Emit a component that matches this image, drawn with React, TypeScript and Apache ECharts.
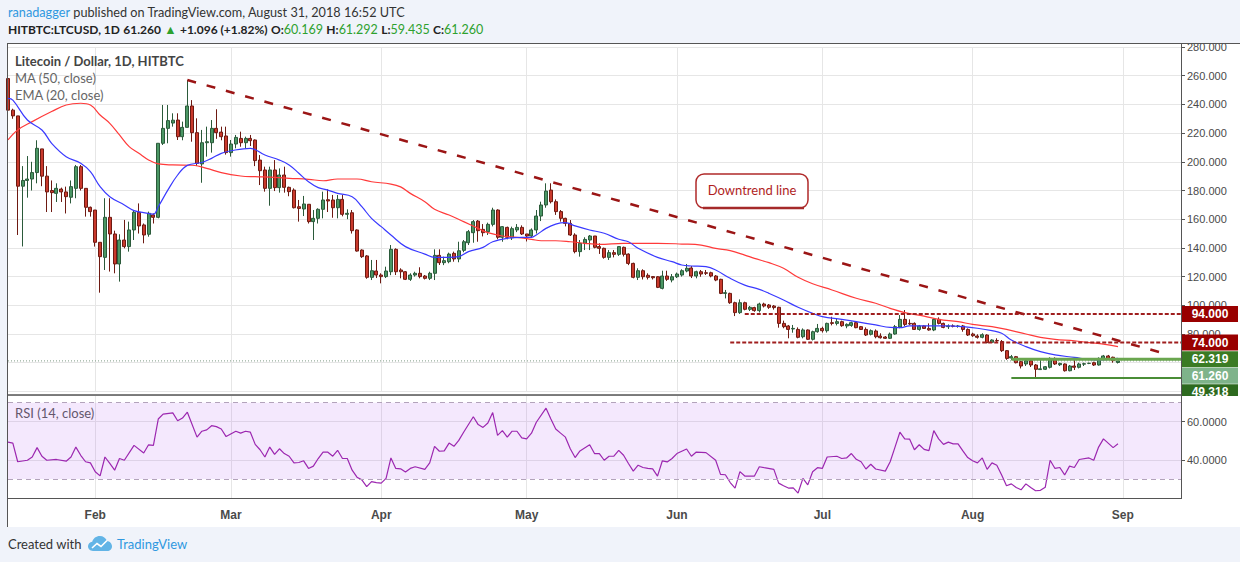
import { useEffect, useRef } from "react";
import * as echarts from "echarts";

// daily candles from 2018-01-14, [open, high, low, close]
const ohlc = [
  [258, 266, 229, 236], [236, 237, 230, 232], [232, 232, 149, 183], [183, 197, 141, 187], [187, 204, 175, 188],
  [188, 200, 180, 192.5], [192.5, 215, 185, 209.4], [209, 209, 183, 190], [190, 197, 165, 179], [180, 187, 165, 178.5],
  [178, 185, 172, 181.5], [181, 182, 172, 179], [179, 182.7, 164, 175.7], [175.3, 187, 171, 182.7], [181.5, 197.8, 174.6, 196.6],
  [196.6, 197.8, 180, 181.5], [181.5, 181.5, 161.8, 168.3], [168.3, 168.8, 161.8, 165.3], [166.4, 166.4, 140.9, 143.9], [143.9, 143.9, 108.8, 133.9],
  [133.4, 174.6, 124.6, 161.3], [161.3, 174.6, 123.5, 149.7], [149.7, 152, 122.3, 128.8], [128.8, 149.5, 116.5, 145.5], [145.5, 159.5, 139.7, 140.9],
  [140.9, 158.3, 137.4, 152.5], [152.5, 166.4, 145.5, 164.8], [164.8, 171, 150, 155.3], [156, 157, 143.2, 149], [149.5, 165.3, 147.8, 164.1],
  [163, 164, 157, 161.3], [161.3, 212.9, 160.6, 212.9], [212.9, 239.6, 211.7, 223.3], [223.3, 239.6, 212.9, 228.7], [227, 233.8, 224.5, 229],
  [229.1, 233.8, 215.2, 217.5], [217.5, 228, 215, 224], [224, 257, 224, 238.9], [238.9, 243, 214, 220.3], [220.3, 230.3, 197, 198.9],
  [198.5, 222.2, 185.4, 213.3], [213.3, 224.5, 203.6, 214], [213.3, 229.1, 206.4, 223.3], [223.3, 236.6, 216, 220.3], [220.7, 224.5, 215, 217.5],
  [218, 224.5, 205, 206.4], [206.4, 215.2, 203.6, 212.4], [212.4, 218.7, 209.4, 217], [216.3, 221, 210.5, 213.3], [213.3, 217.5, 209.4, 216.3],
  [216.3, 218.7, 211, 214.7], [215.2, 215.6, 197, 200.8], [201.2, 204.7, 183.8, 193.8], [194.3, 196.6, 179.2, 181.5], [181.5, 196.6, 169.4, 194.3],
  [194.3, 201.2, 179.6, 182], [182, 195.4, 178.5, 190.8], [190.8, 196.6, 178.5, 182.2], [182.2, 182.7, 176, 179.2], [180.3, 181.5, 167.5, 168],
  [168.7, 173.4, 158.3, 167.5], [167.1, 176.2, 162.2, 170.6], [170.4, 170.4, 157, 158.3], [158.3, 166.4, 145.5, 160.6], [160.6, 167.6, 157, 166.9],
  [166.9, 179.2, 160.6, 173.4], [173.6, 180.8, 165, 172.7], [173.4, 176.9, 161, 168], [168, 176.9, 160.6, 173.8], [173.8, 176.9, 162, 163.4],
  [163.4, 166.9, 160, 164.1], [164.5, 166.4, 150, 152], [152.5, 152.9, 137.4, 137.8], [138.5, 139, 133, 133.9], [134.4, 135, 118.5, 119.5],
  [119.5, 131.6, 117.6, 124.1], [123.9, 131.6, 119, 121.1], [121.1, 122.3, 115.3, 120], [120, 126.9, 119, 123.9], [123.4, 142, 121, 139],
  [139, 139.7, 121.1, 123.4], [124.6, 125.8, 118.8, 123.4], [123.4, 123.9, 117.6, 118.1], [118.1, 122.3, 117, 121.1], [121.1, 123.4, 120, 122.3],
  [122.3, 126.5, 118.8, 120], [120.4, 121.1, 118, 118.8], [118.8, 123.4, 117.6, 122.3], [122.3, 139, 117.6, 134.8], [134.8, 139, 128.1, 129.7],
  [129.7, 133.9, 128, 131.1], [130.4, 136.7, 129.3, 135.7], [136.2, 137.4, 130.4, 132.3], [132.3, 144.3, 130, 138], [138.3, 145.5, 137, 144.3],
  [143.6, 152.5, 142, 151.3], [150.6, 159.4, 143.6, 158.3], [158.7, 159.4, 144.3, 152], [152.9, 156.6, 148, 150.6], [151.3, 157.6, 149, 156.4],
  [156.4, 168, 155, 166.4], [166.4, 166.9, 146, 147.4], [147.4, 155.2, 144.3, 154.8], [154.3, 154.8, 146, 147.4], [147.1, 154.8, 145.5, 153.4],
  [152.5, 156.6, 151, 154.3], [154.3, 155.7, 149, 149.7], [149.7, 149.7, 144.5, 148.3], [148.3, 153.6, 147, 152.5], [152.5, 166.4, 150, 162.2],
  [162.2, 172.2, 158.7, 169.9], [169.9, 185, 168, 179.6], [180.3, 185, 171, 172.2], [172.2, 173.8, 163, 165.3], [165.3, 166.4, 158.3, 160.6],
  [160.6, 161, 155, 157.1], [157.1, 159.4, 148.3, 149], [149, 150.2, 136.2, 137.4], [137.4, 145.5, 133.9, 143.2], [143.2, 147.4, 138.5, 145.9],
  [145.5, 149, 138.5, 148.3], [148.3, 148.3, 139.7, 140.4], [140.9, 143.2, 135.8, 139.7], [139.7, 140.2, 132.5, 133.4], [133.4, 138.5, 131.6, 136.7],
  [136.7, 138.5, 133.4, 135.5], [135.5, 140.9, 134.4, 140.9], [140.4, 140.9, 134, 135.5], [135.7, 136.2, 128, 129.2], [129.2, 129.7, 118.8, 119.5],
  [119.5, 125.8, 117.6, 124.1], [124.1, 125.1, 118, 119.9], [120.9, 122.3, 118, 119.5], [120, 120.4, 118, 119.2], [119.9, 120.4, 112, 112.5],
  [111.8, 124.1, 111.1, 120.4], [120.4, 124.1, 117, 118.1], [117.6, 121.8, 116, 119.9], [119.9, 122.8, 119, 121.8], [121.1, 125.1, 120, 124.1],
  [123.9, 128.8, 123, 125.8], [126, 127.4, 119, 120.4], [120.4, 124.1, 118.8, 123.4], [123.4, 124.6, 119.9, 121.8], [122.7, 124.6, 121.1, 122.3],
  [122.7, 123.4, 119.5, 120.4], [120.4, 121.1, 116.8, 117.6], [118.1, 118.5, 107.8, 108.3], [108.3, 110.7, 104.8, 108.8], [108.3, 108.8, 101, 101.8],
  [101.8, 102.5, 92.5, 94.9], [94.9, 104.1, 94, 101.8], [101.8, 102.5, 96.5, 97.2], [97.2, 99.5, 96, 98.6], [98.4, 99, 95.5, 96.3],
  [96.3, 101.8, 95, 100.9], [100.9, 101.8, 98.5, 99.5], [100.2, 100.9, 97.5, 98.6], [99.5, 100.2, 97, 98.4], [98.6, 99, 84.4, 87.4],
  [87.4, 89.3, 84, 85.1], [85.6, 86.3, 77, 83.2], [83.5, 86.3, 80.9, 83.9], [83.2, 84.6, 77, 77.7], [78.1, 83.9, 77, 82.8],
  [82.8, 83.2, 75.8, 76.3], [76.3, 82.3, 75.5, 81.6], [81.6, 87, 80.9, 83.9], [83.9, 85.1, 81, 82.3], [82.3, 87.9, 81, 87.4],
  [87.9, 92, 86, 87.4], [87.4, 90.9, 86, 88.6], [88.6, 89.3, 85, 85.8], [85.6, 87.4, 84, 86.7], [86, 88.6, 85, 87.9],
  [87.9, 88.6, 84, 84.4], [85.1, 85.6, 82.8, 83.2], [83.2, 84.6, 78.6, 79.3], [79.8, 83.2, 79, 82.3], [82.1, 83.2, 77, 78.1],
  [78.6, 80.5, 76.8, 77.4], [77.9, 78.6, 76.5, 77], [77, 81, 76.5, 80], [80, 86.3, 79.5, 85.1], [84.9, 93.2, 84, 90.2],
  [90.2, 96.7, 85.5, 86.7], [87.4, 90.2, 86.3, 87], [87.4, 88.1, 82.8, 83.2], [83.2, 86.3, 82.3, 85.6], [85.6, 86, 83.5, 83.9],
  [83.9, 87.4, 82.3, 82.8], [82.8, 90.9, 82, 90.2], [90.2, 91.6, 86.7, 87.4], [87.4, 87.9, 84, 84.6], [85.1, 86.7, 83.5, 85.6],
  [85.6, 86.7, 84.6, 85.4], [85.4, 86.3, 84.4, 85.5], [85.6, 86.3, 81.6, 83.2], [83.2, 83.9, 78.6, 79.3], [80, 80.9, 78, 78.8],
  [78.6, 79.8, 76.8, 77.7], [77.7, 80.5, 77, 79.5], [79.3, 79.8, 73.5, 74], [74.2, 76.3, 73.8, 75.8], [75.5, 77, 74, 75.3],
  [74.7, 75.8, 67.5, 68.4], [68.4, 68.8, 62, 63], [63.3, 65.4, 61.9, 64.2], [64.2, 64.7, 59.5, 60], [60.7, 61.4, 56, 57.7],
  [59.1, 62.3, 57.7, 61.4], [61.4, 61.9, 57, 58.4], [58.4, 59.1, 49.318, 55.4], [55.2, 63, 55, 55.7], [55.4, 57.7, 54.9, 57.2],
  [56.8, 63.7, 56, 63], [63, 63.7, 58.4, 59.1], [58.6, 60, 57.7, 59.5], [59.1, 59.5, 53.8, 54.4], [54.4, 58.4, 54, 57.7],
  [57.7, 61.9, 54.9, 56.8], [56.8, 60, 56, 59.1], [59, 60, 57.7, 59.3], [59.5, 60, 59, 59.6], [60, 60.7, 57.7, 58.4],
  [58.4, 63.7, 58, 63], [62.8, 65.4, 62.3, 64.7], [64.7, 65.4, 62.5, 63], [63.8, 64.2, 60, 61.4], [60.169, 61.292, 59.435, 61.26],
];

// [day index, value]
const ma50 = [
  [0, 215.2], [2, 222.2], [5, 228], [9, 235], [12, 239.6], [15, 240.8], [17, 239.6], [19, 232.6], [21, 226.8], [23, 218.7],
  [25, 210.6], [27, 205.9], [29, 201.3], [31, 198.5], [34, 197.8], [38, 197.6], [41, 195.4], [44, 192.4], [48, 190.1], [51, 189.6],
  [55, 189.2], [58, 188.5], [62, 187.8], [65, 186.8], [68, 188], [72, 188], [75, 186.1], [79, 184.5], [81, 182.5], [83, 178],
  [86, 172.2], [88, 166.9], [91, 162.9], [94, 158.3], [97, 153.6], [99, 150.6], [102, 148.3], [105, 147.4], [108, 146], [110, 145],
  [113, 145], [116, 144.3], [119, 143.2], [122, 142.5], [127, 143.2], [134, 143.2], [139, 142.7], [143, 142], [146, 139.7], [149, 138.1],
  [152, 135], [154, 132.7], [157, 129.7], [160, 125.8], [163, 119.5], [166, 115], [170, 110.7], [175, 104.9], [179, 101.4], [182, 97.9],
  [185, 94.9], [189, 92.5], [192, 90.2], [196, 88.6], [199, 86.7], [203, 85.1], [206, 83.2], [210, 80], [213, 77.7], [216, 76.3],
  [220, 75.3], [223, 74], [226, 73], [229, 71.2],
];
const ema20 = [
  [0, 244.2], [1, 243], [4, 229.1], [7, 222.2], [9, 212.9], [12, 203.6], [15, 199], [17, 193.1], [19, 182.7], [21, 175.7],
  [24, 169.9], [26, 166], [28, 164.6], [30, 163.6], [31, 168.7], [33, 180.4], [35, 190.8], [37, 197.5], [40, 199.5], [42, 202.4],
  [44, 205.9], [46, 207.7], [50, 209.4], [53, 204.7], [56, 201.2], [58, 197.8], [60, 192], [62, 186.1], [64, 182], [66, 180.3],
  [68, 178], [71, 175.7], [73, 168.7], [75, 160.6], [77, 154.8], [79, 149], [82, 140.9], [86, 135.7], [88, 133.4], [91, 133.4],
  [93, 133.9], [95, 137.4], [98, 140.4], [100, 144.3], [103, 146.7], [106, 147.4], [108, 147.4], [109, 149], [111, 153.6], [113, 156.6],
  [115, 157.6], [117, 155.3], [120, 152.5], [123, 150.2], [126, 146], [128, 144.3], [130, 139.7], [134, 133.4], [137, 130.4], [139, 128.1],
  [141, 127.4], [144, 126.9], [146, 124.6], [149, 118.8], [152, 114.1], [155, 111.1], [157, 108.3], [160, 103.7], [163, 98.6], [166, 94.4],
  [168, 92.1], [172, 90.2], [175, 88.6], [179, 86.3], [182, 84.6], [184, 84.4], [186, 85.6], [189, 85.6], [192, 85.6], [194, 85.6],
  [197, 85.1], [200, 84], [203, 82.3], [205, 80.5], [207, 75.8], [210, 71.2], [213, 67.7], [216, 65.4], [220, 63.7], [223, 62.3],
  [225, 61.9], [227, 62.3], [229, 63],
];
const rsi14 = [
  [0, 49.3], [1, 48.8], [2, 39], [4, 39.8], [5, 41.5], [6, 46.4], [7, 41.9], [8, 39.8], [10, 40.2], [12, 39.3],
  [13, 41.5], [14, 46.7], [15, 42.4], [16, 39], [17, 38.4], [18, 33.8], [19, 31.6], [20, 41.5], [21, 38.1], [22, 34.6],
  [23, 40.7], [24, 39.8], [26, 47.6], [28, 43.6], [29, 47.9], [30, 47.6], [31, 61.4], [32, 64], [34, 64.6], [35, 60.5],
  [36, 61.9], [37, 65], [39, 51.9], [40, 55], [41, 55.7], [42, 57.9], [43, 57.4], [44, 56.2], [45, 52.2], [47, 55],
  [48, 54], [49, 55], [50, 54.5], [51, 48.1], [52, 45.3], [53, 41.5], [54, 46.7], [55, 42.9], [56, 45.8], [57, 43.3],
  [58, 41.9], [59, 38.4], [60, 38.6], [61, 39.5], [62, 35.5], [63, 36.7], [64, 40.7], [65, 44.1], [66, 44], [67, 41.9],
  [68, 45], [69, 40.7], [70, 40.7], [71, 34.6], [72, 30.9], [73, 29.5], [74, 26], [75, 28.6], [76, 28.1], [77, 27.8],
  [78, 30.3], [79, 41], [80, 35.5], [81, 35.3], [82, 33.6], [83, 35.5], [84, 36.4], [86, 35], [87, 38.4], [88, 47.1],
  [89, 44.5], [90, 44.7], [91, 48.8], [92, 47.1], [93, 50.2], [94, 54.5], [96, 62.6], [97, 58.5], [98, 57], [99, 59.3],
  [100, 64.8], [101, 52.8], [102, 55.3], [103, 51.9], [104, 55], [105, 55], [106, 51.5], [107, 51], [108, 54], [109, 59.7],
  [111, 67.1], [112, 61.4], [113, 56.2], [114, 54], [115, 51.9], [116, 45.8], [117, 41.2], [118, 44.7], [120, 47.9], [121, 43.3],
  [122, 43.3], [123, 39.8], [124, 41.9], [125, 41.9], [126, 45], [127, 42.4], [128, 38.1], [129, 34.1], [130, 37.2], [131, 36],
  [132, 35.5], [133, 35.3], [134, 31.5], [135, 39.5], [136, 38.9], [137, 40.7], [138, 43.3], [140, 45.7], [141, 41.9], [142, 44.1],
  [144, 43.8], [146, 39.8], [147, 32.4], [148, 32.2], [149, 28.1], [150, 25.2], [151, 33.8], [152, 31.5], [154, 31.5], [155, 36.4],
  [156, 35.9], [158, 35], [159, 27.8], [160, 26.4], [161, 25.2], [162, 25.3], [163, 22.6], [164, 30.3], [165, 26.9], [166, 33.8],
  [167, 35.9], [168, 35.5], [169, 41.5], [171, 41.9], [172, 40.7], [173, 41], [174, 43.3], [175, 40.3], [176, 39], [177, 35.2],
  [178, 37.7], [179, 35.2], [181, 34.1], [182, 39], [183, 46.7], [184, 54.5], [185, 51], [186, 50.9], [187, 45.3], [188, 47.9],
  [189, 45.5], [190, 44.8], [191, 55.3], [192, 51], [193, 48.1], [194, 49.3], [195, 48.4], [196, 48.4], [197, 44.7], [198, 41.2],
  [199, 39.5], [200, 38.4], [201, 41], [202, 35], [203, 38.4], [204, 37.2], [205, 32.1], [206, 26.4], [207, 27.4], [208, 25.5],
  [209, 24.3], [210, 27.4], [211, 25.5], [212, 23.8], [213, 24], [214, 25.7], [215, 39.8], [216, 35.5], [217, 36], [218, 32.1],
  [219, 36.7], [220, 36], [221, 40.2], [223, 41], [224, 39.8], [225, 46.7], [226, 51], [228, 46.4], [229, 48.4],
];

// drawn lines: [day index, price]
const trendLine = [[37, 257], [239, 66]];
const resist94 = [[152, 94], [242, 94]];
const resist74 = [[149, 74], [242, 74]];
const support62 = [[207, 62.319], [242, 62.319]];
const support49 = [[207, 49.318], [242, 49.318]];
const lastPrice = 61.26;

const priceTags = [
  { v: 94, text: "94.000", bg: "#990000" },
  { v: 74, text: "74.000", bg: "#990000" },
  { v: 62.319, text: "62.319", bg: "#3b7b24" },
  { v: 61.26, text: "61.260", bg: "#7eb38a" },
  { v: 49.318, text: "49.318", bg: "#2d6a1f" },
];

const monthNames = ["Jan", "Feb", "Mar", "Apr", "May", "Jun", "Jul", "Aug", "Sep", "Oct", "Nov", "Dec"];
const START = Date.UTC(2018, 0, 14);
const DAYS = 243;
const dates = Array.from({ length: DAYS }, (_, i) =>
  new Date(START + i * 86400000).toISOString().slice(0, 10)
);
const isMonthStart = (_i: number, v: string) => v.endsWith("-01");

const cloud =
  "M5 15C2.2 15 0 12.9 0 10.3C0 7.9 1.8 6 4.2 5.7C5.2 2.4 8.2 0 11.8 0C15.2 0 18 2.1 19 5.1C21.8 5.4 24 7.7 24 10.4C24 12.9 21.9 15 19.3 15Z";
echarts.graphic.registerShape("tvcloud", echarts.graphic.extendPath(cloud, {}));

const FONT = "Lato";
const AXIS_FONT = "Liberation Sans";

const App = () => {
  const chartRef = useRef<HTMLDivElement>(null);

  useEffect(() => {
    const chart = echarts.init(chartRef.current, null, { renderer: "svg" });

    const lineBase = { type: "line", showSymbol: false, symbol: "none", silent: true, xAxisIndex: 0, yAxisIndex: 0 };
    const xBase = {
      type: "category",
      data: dates,
      boundaryGap: false,
      axisLine: { show: false },
      axisTick: { show: false },
      splitLine: { show: true, interval: isMonthStart, lineStyle: { color: "#e6e6e6" } },
    };

    chart.setOption({
      animation: false,
      textStyle: { fontFamily: AXIS_FONT },
      grid: [
        { left: 8, right: 59, top: 47, height: 344.4 },
        { left: 8, right: 59, top: 395, height: 103 },
      ],
      xAxis: [
        { ...xBase, gridIndex: 0, axisLabel: { show: false } },
        {
          ...xBase,
          gridIndex: 1,
          axisLabel: {
            show: true,
            interval: isMonthStart,
            formatter: (v: string) => monthNames[+v.slice(5, 7) - 1],
            color: "#4a4a4a",
            fontSize: 12,
            fontWeight: "bold",
            margin: 11,
          },
        },
      ],
      yAxis: [
        {
          gridIndex: 0,
          position: "right",
          min: 40,
          max: 280,
          interval: 20,
          axisLine: { show: false },
          axisTick: { show: true, length: 4, lineStyle: { color: "#555" } },
          axisLabel: {
            formatter: (v: number) => (v >= 80 ? v.toFixed(3) : ""),
            color: "#4a4a4a",
            fontSize: 11,
            margin: 6,
          },
          splitLine: { lineStyle: { color: "#e6e6e6" } },
        },
        {
          gridIndex: 1,
          position: "right",
          min: 20,
          max: 74,
          interval: 20,
          axisLine: { show: false },
          axisTick: { show: true, length: 4, lineStyle: { color: "#555" } },
          axisLabel: {
            showMinLabel: false,
            showMaxLabel: false,
            formatter: (v: number) => (v === 40 || v === 60 ? v.toFixed(4) : ""),
            color: "#4a4a4a",
            fontSize: 11,
            margin: 6,
          },
          splitLine: { lineStyle: { color: "#e6e6e6" } },
        },
      ],
      series: [
        {
          ...lineBase,
          data: [[0, lastPrice], [DAYS - 1, lastPrice]],
          lineStyle: { color: "#7d9a84", width: 1, type: [1, 2] },
          z: 1,
        },
        {
          type: "candlestick",
          xAxisIndex: 0,
          yAxisIndex: 0,
          silent: true,
          barWidth: 3.5,
          data: ohlc.map(([o, h, l, c]) => [o, c, l, h]),
          itemStyle: {
            color: "#4a9664",
            color0: "#c9392c",
            borderColor: "#2b5a3a",
            borderColor0: "#6e1a12",
            borderWidth: 1,
          },
          z: 3,
        },
        { ...lineBase, data: ma50, smooth: 0.4, lineStyle: { color: "#ff3a3a", width: 1.2 }, z: 4 },
        { ...lineBase, data: ema20, smooth: 0.4, lineStyle: { color: "#3a3aff", width: 1.2 }, z: 4 },
        { ...lineBase, data: trendLine, lineStyle: { color: "#9b1515", width: 2.5, type: [9, 11] }, z: 5 },
        { ...lineBase, data: resist94, lineStyle: { color: "#a01e1e", width: 2, type: [4, 2] }, z: 5 },
        { ...lineBase, data: resist74, lineStyle: { color: "#a01e1e", width: 2, type: [4, 2] }, z: 5 },
        { ...lineBase, data: support62, lineStyle: { color: "#6aa64f", width: 3 }, z: 5 },
        { ...lineBase, data: support49, lineStyle: { color: "#4a8d36", width: 2 }, z: 5 },
        {
          ...lineBase,
          xAxisIndex: 1,
          yAxisIndex: 1,
          data: rsi14,
          lineStyle: { color: "#9c27b0", width: 1.2 },
          markArea: {
            silent: true,
            itemStyle: { color: "rgba(180, 100, 240, 0.15)" },
            data: [[{ yAxis: 30 }, { yAxis: 70 }]],
          },
          markLine: {
            silent: true,
            symbol: "none",
            label: { show: false },
            lineStyle: { color: "#b3a3bb", width: 1, type: [5, 4] },
            data: [{ yAxis: 70 }, { yAxis: 30 }],
          },
        },
      ],
    });

    // right-axis price tags, stacked so they do not overlap
    const tags: any[] = [];
    let prevY = -Infinity;
    priceTags.forEach((t) => {
      let y = chart.convertToPixel({ yAxisIndex: 0 }, t.v) as number;
      if (y < prevY + 16.5) y = prevY + 16.5;
      prevY = y;
      tags.push({
        type: "rect",
        z: 100,
        shape: { x: 1182, y: y - 8, width: 56, height: 16 },
        style: { fill: t.bg },
      });
      tags.push({
        type: "text",
        z: 101,
        x: 1210,
        y,
        style: {
          text: t.text,
          fill: "#fff",
          font: `bold 12px ${AXIS_FONT}`,
          textAlign: "center",
          textVerticalAlign: "middle",
        },
      });
    });

    const frame = "#555";
    chart.setOption({
      graphic: [
        { type: "rect", z: -10, shape: { x: 7, y: 43, width: 1240, height: 484 }, style: { fill: "#fff" } },
        // header
        {
          type: "text",
          x: 8,
          y: 12,
          style: {
            text: "{a|ranadagger} {b|published on TradingView.com, August 31, 2018 16:52 UTC}",
            textVerticalAlign: "middle",
            rich: {
              a: { fill: "#2f98e0", font: `12.7px ${FONT}` },
              b: { fill: "#333", font: `12.7px ${FONT}` },
            },
          },
        },
        {
          type: "text",
          x: 8,
          y: 29,
          style: {
            text:
              "{b|HITBTC:LTCUSD, 1D} {b|61.260} {g|▲} {b|+1.096 (+1.82%)} {b|O:}{g|60.169} {b|H:}{g|61.292} {b|L:}{g|59.435} {b|C:}{g|61.260}",
            textVerticalAlign: "middle",
            rich: {
              b: { fill: "#222", font: `bold 12px ${FONT}` },
              g: { fill: "#2ea12e", font: `12.5px ${FONT}` },
            },
          },
        },
        // legends
        { type: "text", x: 15, y: 61, style: { text: "Litecoin / Dollar, 1D, HITBTC", fill: "#444", font: `bold 13px ${FONT}`, textVerticalAlign: "middle" } },
        { type: "text", x: 15, y: 78, style: { text: "MA (50, close)", fill: "#666", font: `13px ${FONT}`, textVerticalAlign: "middle" } },
        { type: "text", x: 15, y: 95, style: { text: "EMA (20, close)", fill: "#666", font: `13px ${FONT}`, textVerticalAlign: "middle" } },
        { type: "text", x: 15, y: 413, style: { text: "RSI (14, close)", fill: "#555", font: `13px ${FONT}`, textVerticalAlign: "middle" } },
        // callout
        {
          type: "rect",
          z: 20,
          shape: { x: 696, y: 174, width: 112, height: 34, r: 8 },
          style: { fill: "#fff", stroke: "#b02a2a", lineWidth: 1.5 },
        },
        { type: "line", z: 21, shape: { x1: 703, y1: 208, x2: 804, y2: 208 }, style: { stroke: "#a52a2a", lineWidth: 2.5 } },
        {
          type: "text",
          z: 22,
          x: 752,
          y: 190,
          style: { text: "Downtrend line", fill: "#b01e1e", font: `13px ${FONT}`, textAlign: "center", textVerticalAlign: "middle" },
        },
        ...tags,
        // clip the lowest tag at the pane border
        { type: "rect", z: 102, shape: { x: 1182, y: 396, width: 58, height: 10 }, style: { fill: "#fff" } },
        // frame
        { type: "line", z: 110, shape: { x1: 7.5, y1: 43, x2: 7.5, y2: 527 }, style: { stroke: frame, lineWidth: 1 } },
        { type: "line", z: 110, shape: { x1: 7, y1: 43.5, x2: 1240, y2: 43.5 }, style: { stroke: frame, lineWidth: 1 } },
        { type: "line", z: 110, shape: { x1: 1181.5, y1: 43, x2: 1181.5, y2: 499 }, style: { stroke: frame, lineWidth: 1 } },
        { type: "line", z: 110, shape: { x1: 7, y1: 395, x2: 1182, y2: 395 }, style: { stroke: frame, lineWidth: 1.5 } },
        { type: "line", z: 110, shape: { x1: 7, y1: 498.5, x2: 1182, y2: 498.5 }, style: { stroke: frame, lineWidth: 1 } },
        // footer
        { type: "text", x: 8, y: 544, style: { text: "Created with", fill: "#333", font: `13px ${FONT}`, textVerticalAlign: "middle" } },
        { type: "tvcloud", x: 88, y: 536, scaleX: 1, scaleY: 1, style: { fill: "#62b4e6" } },
        {
          type: "polyline",
          shape: { points: [[92, 548], [97, 543.5], [101, 546.5], [107, 540.5]] },
          style: { stroke: "#fff", lineWidth: 1.6, fill: null },
        },
        { type: "text", x: 117, y: 544, style: { text: "TradingView", fill: "#2f98e0", font: `13px ${FONT}`, textVerticalAlign: "middle" } },
      ],
    });

    return () => {
      chart.dispose();
    };
  }, []);

  return (
    <div
      ref={chartRef}
      style={{ position: "fixed", left: 0, top: 0, width: 1240, height: 562, background: "#f0f3fa" }}
    />
  );
};

export default App;
